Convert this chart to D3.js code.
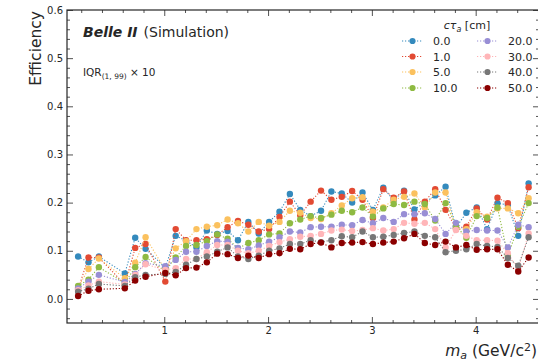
<!DOCTYPE html>
<html>
<head>
<meta charset="utf-8">
<script src="https://cdn.jsdelivr.net/npm/d3@7"></script>
<style>
  body { margin: 0; background: #fff; }
  svg { display: block; font-family: "DejaVu Sans", sans-serif; }
</style>
</head>
<body>
<div id="chart"></div>
<script>
// axion masses (GeV/c^2)
const masses = [0.17, 0.27, 0.37, 0.62, 0.72, 0.82,
  1.01, 1.11, 1.21, 1.31, 1.41, 1.51, 1.61, 1.71, 1.81, 1.91,
  2.01, 2.11, 2.21, 2.31, 2.41, 2.51, 2.61, 2.71, 2.81, 2.91,
  3.01, 3.11, 3.21, 3.31, 3.41, 3.51, 3.61, 3.71, 3.81, 3.91,
  4.01, 4.11, 4.21, 4.31, 4.41, 4.51];

const ctauLabels = ['0.0', '1.0', '5.0', '10.0', '20.0', '30.0', '40.0', '50.0'];
const colors = ['#348ABD', '#E24A33', '#FBC15E', '#8EBA42', '#988ED5', '#FFB5B8', '#777777', '#8B0000'];

const eff0 = [0.088, 0.076, 0.088, 0.053, 0.127, 0.104,
  0.065, 0.131, 0.121, 0.107, 0.142, 0.135, 0.141, 0.122, 0.160, 0.136,
  0.160, 0.181, 0.218, 0.185, 0.172, 0.183, 0.223, 0.219, 0.200, 0.221,
  0.185, 0.231, 0.205, 0.225, 0.186, 0.200, 0.215, 0.233, 0.148, 0.179,
  0.190, 0.145, 0.199, 0.195, 0.131, 0.240];
const eff1 = [0.020, 0.086, 0.086, 0.030, 0.106, 0.114,
  0.036, 0.145, 0.122, 0.122, 0.124, 0.133, 0.149, 0.162, 0.154, 0.140,
  0.145, 0.170, 0.202, 0.174, 0.202, 0.225, 0.206, 0.212, 0.224, 0.206,
  0.168, 0.228, 0.210, 0.223, 0.165, 0.202, 0.228, 0.185, 0.147, 0.150,
  0.188, 0.165, 0.210, 0.199, 0.147, 0.232];
const eff5 = [0.024, 0.062, 0.084, 0.043, 0.075, 0.128,
  0.060, 0.105, 0.120, 0.145, 0.150, 0.153, 0.165, 0.157, 0.140, 0.160,
  0.152, 0.160, 0.183, 0.179, 0.168, 0.166, 0.178, 0.194, 0.209, 0.211,
  0.181, 0.190, 0.206, 0.212, 0.219, 0.190, 0.221, 0.221, 0.145, 0.145,
  0.180, 0.171, 0.188, 0.188, 0.178, 0.209];
const eff10 = [0.027, 0.040, 0.066, 0.033, 0.066, 0.087,
  0.058, 0.086, 0.110, 0.112, 0.120, 0.134, 0.125, 0.105, 0.116, 0.122,
  0.134, 0.136, 0.157, 0.165, 0.172, 0.168, 0.175, 0.183, 0.180, 0.190,
  0.171, 0.188, 0.197, 0.195, 0.202, 0.197, 0.163, 0.199, 0.152, 0.127,
  0.172, 0.168, 0.190, 0.090, 0.150, 0.199];
const eff20 = [0.022, 0.036, 0.050, 0.035, 0.052, 0.074,
  0.068, 0.081, 0.098, 0.098, 0.110, 0.120, 0.119, 0.106, 0.103, 0.111,
  0.119, 0.128, 0.140, 0.138, 0.149, 0.150, 0.150, 0.154, 0.153, 0.164,
  0.157, 0.168, 0.160, 0.176, 0.176, 0.178, 0.166, 0.135, 0.158, 0.140,
  0.143, 0.142, 0.142, 0.107, 0.154, 0.149];
const eff30 = [0.018, 0.028, 0.036, 0.030, 0.050, 0.072,
  0.060, 0.064, 0.083, 0.083, 0.097, 0.112, 0.112, 0.100, 0.095, 0.100,
  0.110, 0.118, 0.124, 0.129, 0.131, 0.135, 0.142, 0.144, 0.141, 0.143,
  0.147, 0.142, 0.145, 0.158, 0.156, 0.158, 0.145, 0.107, 0.143, 0.131,
  0.122, 0.122, 0.121, 0.095, 0.062, 0.136];
const eff40 = [0.015, 0.021, 0.031, 0.027, 0.045, 0.050,
  0.052, 0.056, 0.071, 0.083, 0.088, 0.098, 0.107, 0.088, 0.083, 0.090,
  0.100, 0.105, 0.114, 0.114, 0.122, 0.118, 0.122, 0.130, 0.128, 0.140,
  0.128, 0.129, 0.133, 0.137, 0.140, 0.131, 0.128, 0.097, 0.100, 0.103,
  0.114, 0.110, 0.108, 0.085, 0.069, 0.128];
const eff50 = [0.006, 0.017, 0.020, 0.022, 0.038, 0.046,
  0.054, 0.049, 0.064, 0.065, 0.076, 0.094, 0.093, 0.085, 0.090, 0.085,
  0.093, 0.095, 0.104, 0.103, 0.114, 0.117, 0.107, 0.116, 0.117, 0.118,
  0.114, 0.117, 0.119, 0.126, 0.135, 0.116, 0.112, 0.119, 0.107, 0.112,
  0.102, 0.103, 0.103, 0.071, 0.057, 0.086];

const series = [eff0, eff1, eff5, eff10, eff20, eff30, eff40, eff50];

const xTicks = [1, 2, 3, 4];
const yTicks = [0.0, 0.1, 0.2, 0.3, 0.4, 0.5, 0.6];

const W = 538, H = 361;
const margin = { top: 10, right: -1, bottom: 38, left: 67 };
const innerW = W - margin.left - margin.right;
const innerH = H - margin.top - margin.bottom;
const textColor = '#262626';

const svg = d3.select('#chart').append('svg')
  .attr('width', W)
  .attr('height', H);

const x = d3.scaleLinear().domain([0.063, 4.61]).range([0, innerW]);
const y = d3.scaleLinear().domain([-0.05, 0.6]).range([innerH, 0]);

const g = svg.append('g')
  .attr('transform', `translate(${margin.left},${margin.top})`);

// minor tick positions
const xMinor = d3.range(0.2, 4.61, 0.2).filter(v => Math.abs(v - Math.round(v)) > 1e-6);
const yMinor = d3.range(-0.04, 0.6, 0.02).filter(v => Math.abs(v * 10 - Math.round(v * 10)) > 1e-6);

function styleAxis(sel) {
  sel.select('.domain').remove();
  sel.selectAll('.tick line').attr('stroke', textColor).attr('stroke-width', 0.8);
  sel.selectAll('.tick text')
    .attr('fill', textColor)
    .style('font-size', '10px')
    .style('font-family', '"DejaVu Sans", sans-serif');
}

// bottom axis
g.append('g')
  .attr('transform', `translate(0,${innerH})`)
  .call(d3.axisBottom(x).tickValues(xTicks).tickFormat(d3.format('d')).tickSizeInner(-6).tickPadding(4))
  .call(styleAxis);
g.append('g')
  .attr('transform', `translate(0,${innerH})`)
  .call(d3.axisBottom(x).tickValues(xMinor).tickFormat('').tickSizeInner(-3))
  .call(styleAxis);
// top axis
g.append('g')
  .call(d3.axisTop(x).tickValues(xTicks).tickFormat('').tickSizeInner(-6))
  .call(styleAxis);
g.append('g')
  .call(d3.axisTop(x).tickValues(xMinor).tickFormat('').tickSizeInner(-3))
  .call(styleAxis);
// left axis
g.append('g')
  .call(d3.axisLeft(y).tickValues(yTicks).tickFormat(d3.format('.1f')).tickSizeInner(-6).tickPadding(4))
  .call(styleAxis);
g.append('g')
  .call(d3.axisLeft(y).tickValues(yMinor).tickFormat('').tickSizeInner(-3))
  .call(styleAxis);
// right axis
g.append('g')
  .attr('transform', `translate(${innerW},0)`)
  .call(d3.axisRight(y).tickValues(yTicks).tickFormat('').tickSizeInner(-6))
  .call(styleAxis);
g.append('g')
  .attr('transform', `translate(${innerW},0)`)
  .call(d3.axisRight(y).tickValues(yMinor).tickFormat('').tickSizeInner(-3))
  .call(styleAxis);

// frame
g.append('rect')
  .attr('x', 0).attr('y', 0)
  .attr('width', innerW).attr('height', innerH)
  .attr('fill', 'none')
  .attr('stroke', textColor)
  .attr('stroke-width', 1.2);

// series
const line = d3.line()
  .x((d, i) => x(masses[i]))
  .y(d => y(d));

series.forEach((vals, k) => {
  const sg = g.append('g').attr('class', 'series');
  sg.append('path')
    .datum(vals)
    .attr('d', line)
    .attr('fill', 'none')
    .attr('stroke', colors[k])
    .attr('stroke-width', 1.1)
    .attr('stroke-dasharray', '1.2,1.8');
  sg.selectAll('circle')
    .data(vals)
    .enter().append('circle')
    .attr('cx', (d, i) => x(masses[i]))
    .attr('cy', d => y(d))
    .attr('r', 3.2)
    .attr('fill', colors[k]);
});

// experiment label
const title = svg.append('text')
  .attr('x', 83).attr('y', 37)
  .attr('fill', textColor)
  .style('font-size', '14px');
title.append('tspan')
  .style('font-weight', 'bold')
  .style('font-style', 'italic')
  .text('Belle II');
title.append('tspan')
  .attr('dx', 6)
  .text('(Simulation)');

const iqr = svg.append('text')
  .attr('x', 83).attr('y', 76)
  .attr('fill', textColor)
  .style('font-size', '10.5px');
iqr.append('tspan').text('IQR');
iqr.append('tspan').attr('dy', 3).style('font-size', '7.5px').text('(1, 99)');
iqr.append('tspan').attr('dy', -3).text(' × 10');

// axis titles
svg.append('text')
  .attr('transform', 'translate(41,11) rotate(-90)')
  .attr('text-anchor', 'end')
  .attr('fill', textColor)
  .style('font-size', '15.5px')
  .text('Efficiency');

const xl = svg.append('text')
  .attr('x', 537).attr('y', 356)
  .attr('text-anchor', 'end')
  .attr('fill', textColor)
  .style('font-size', '15.5px');
xl.append('tspan').style('font-style', 'italic').text('m');
xl.append('tspan').attr('dy', 3).style('font-size', '11px').style('font-style', 'italic').text('a');
xl.append('tspan').attr('dy', -3).text(' (GeV/c');
xl.append('tspan').attr('dy', -5.5).style('font-size', '11px').text('2');
xl.append('tspan').attr('dy', 5.5).text(')');

// legend
const legend = svg.append('g');
const lt = legend.append('text')
  .attr('x', 467).attr('y', 29)
  .attr('text-anchor', 'middle')
  .attr('fill', textColor)
  .style('font-size', '11px');
lt.append('tspan').style('font-style', 'italic').text('cτ');
lt.append('tspan').attr('dy', 2.5).style('font-size', '8px').style('font-style', 'italic').text('a');
lt.append('tspan').attr('dy', -2.5).text(' [cm]');

const colX = [402, 477];
const rowY = [41, 56.5, 72, 88];
ctauLabels.forEach((lab, k) => {
  const cx = colX[Math.floor(k / 4)];
  const cy = rowY[k % 4];
  const item = legend.append('g');
  item.append('line')
    .attr('x1', cx).attr('x2', cx + 21)
    .attr('y1', cy).attr('y2', cy)
    .attr('stroke', colors[k])
    .attr('stroke-width', 1.1)
    .attr('stroke-dasharray', '1.2,1.8');
  item.append('circle')
    .attr('cx', cx + 10.5).attr('cy', cy)
    .attr('r', 3.1)
    .attr('fill', colors[k]);
  item.append('text')
    .attr('x', cx + 31).attr('y', cy + 4)
    .attr('fill', textColor)
    .style('font-size', '11px')
    .text(lab);
});
</script>
</body>
</html>
